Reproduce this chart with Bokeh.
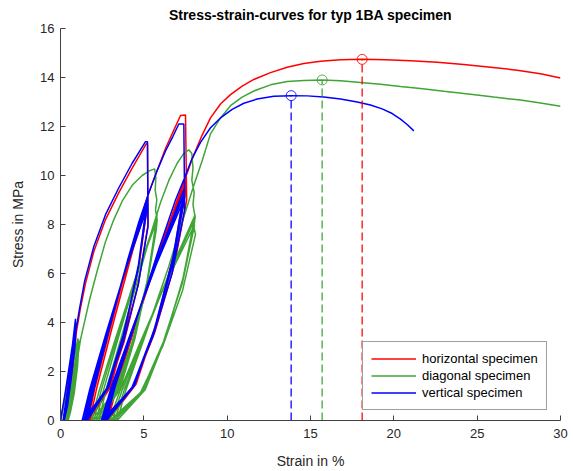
import numpy as np
from bokeh.plotting import figure
from bokeh.models import Range1d, FixedTicker, Legend, LegendItem
from bokeh.embed import file_html
from bokeh.resources import INLINE

# ---------------- data (strain in %, stress in MPa) ----------------
red_c1_strain = [0.00, 0.25, 0.50, 0.75, 0.97, 0.88, 0.68, 0.45, 0.22, 0.40, 0.62, 0.82, 0.95, 0.85, 0.65, 0.43, 0.25]
red_c1_stress = [0.00, 0.90, 1.90, 2.90, 3.95, 3.00, 1.70, 0.60, 0.00, 0.85, 2.00, 3.00, 3.75, 2.80, 1.60, 0.55, 0.00]
red_c2_strain = [0.45, 0.70, 0.95, 1.20, 1.50, 2.00, 2.70, 3.50, 4.30, 5.15, 5.22, 5.25,
                 4.68, 3.81, 2.82, 1.45, 1.90, 2.81, 3.94, 5.22,
                 4.67, 3.83, 2.87, 1.55, 1.99, 2.88, 3.99, 5.25,
                 4.71, 3.88, 2.95, 1.65, 2.08, 2.95, 4.03, 5.25,
                 4.73, 3.92, 3.01, 1.75]
red_c2_stress = [1.00, 2.40, 3.60, 4.60, 5.60, 6.90, 8.20, 9.30, 10.30, 11.30, 11.30, 8.00,
                 5.60, 3.20, 1.20, 0.00, 1.32, 3.52, 6.16, 8.80,
                 6.16, 3.52, 1.32, 0.00, 1.35, 3.60, 6.30, 9.00,
                 6.30, 3.60, 1.35, 0.00, 1.38, 3.68, 6.44, 9.20,
                 6.44, 3.68, 1.38, 0.00]
red_c3_strain = [2.20, 3.10, 4.20, 4.80, 5.30, 5.80, 6.30, 6.80, 7.20, 7.50, 7.57,
                 6.82, 5.66, 4.36, 2.55, 3.15, 4.35, 5.85, 7.55,
                 6.82, 5.69, 4.41, 2.65, 3.24, 4.41, 5.88, 7.55,
                 6.83, 5.73, 4.48, 2.75, 3.33, 4.48, 5.92, 7.55,
                 6.85, 5.76, 4.54, 2.85]
red_c3_stress = [1.40, 3.80, 6.60, 8.10, 9.30, 10.20, 11.10, 11.85, 12.45, 12.47, 9.00,
                 6.30, 3.60, 1.35, 0.00, 1.43, 3.80, 6.65, 9.50,
                 6.65, 3.80, 1.43, 0.00, 1.46, 3.90, 6.83, 9.75,
                 6.83, 3.90, 1.46, 0.00, 1.49, 3.98, 6.97, 9.95,
                 6.97, 3.98, 1.49, 0.00]
red_final_strain = [3.42, 4.55, 6.00, 7.00, 7.60, 8.00, 8.50, 9.00, 9.60, 10.20, 10.90, 11.60, 12.60, 13.60,
                    14.60, 15.60, 16.80, 18.10, 19.50, 21.00, 22.60, 24.20, 25.80, 27.40, 28.80, 30.00]
red_final_stress = [1.50, 4.00, 7.00, 9.00, 10.10, 10.85, 11.65, 12.35, 12.92, 13.30, 13.65, 13.92, 14.20, 14.42,
                    14.57, 14.66, 14.72, 14.74, 14.72, 14.68, 14.62, 14.53, 14.42, 14.30, 14.15, 13.98]

green_c1_strain = [0.00, 0.30, 0.60, 0.85, 1.05, 0.95, 0.75, 0.52, 0.30, 0.50, 0.72, 0.92, 1.08, 0.98, 0.78, 0.56, 0.38,
                   0.58, 0.80, 1.00, 1.12, 1.02, 0.82, 0.60, 0.45]
green_c1_stress = [0.00, 0.90, 1.90, 2.70, 3.35, 2.40, 1.30, 0.45, 0.00, 0.80, 1.70, 2.60, 3.30, 2.30, 1.20, 0.40, 0.00,
                   0.85, 1.80, 2.70, 3.25, 2.20, 1.10, 0.35, 0.00]
green_c2_strain = [0.65, 0.90, 1.20, 1.50, 1.75, 2.20, 2.70, 3.20, 3.70, 4.30, 4.90, 5.35, 5.65,
                   5.72, 5.68, 5.78, 5.70, 5.80, 5.75,
                   5.17, 4.27, 3.25, 1.85, 2.32, 3.25, 4.42, 5.75,
                   5.19, 4.33, 3.35, 2.00, 2.45, 3.36, 4.49, 5.78,
                   5.24, 4.40, 3.46, 2.15, 2.59, 3.46, 4.56, 5.80,
                   5.28, 4.47, 3.56, 2.30]
green_c2_stress = [0.90, 2.00, 3.30, 4.20, 4.95, 6.10, 7.30, 8.20, 8.95, 9.60, 10.00, 10.20, 10.27,
                   9.90, 9.40, 9.00, 8.60, 8.20, 7.80,
                   5.46, 3.12, 1.17, 0.00, 1.22, 3.24, 5.67, 8.10,
                   5.67, 3.24, 1.22, 0.00, 1.25, 3.32, 5.81, 8.30,
                   5.81, 3.32, 1.25, 0.00, 1.26, 3.36, 5.88, 8.40,
                   5.88, 3.36, 1.26, 0.00]
green_c3_strain = [2.75, 3.65, 4.70, 5.50, 6.00, 6.50, 7.00, 7.40, 7.70, 7.88,
                   7.95, 7.88, 8.02, 7.95, 8.08, 8.00, 8.10,
                   7.33, 6.14, 4.80, 2.95, 3.56, 4.79, 6.32, 8.05,
                   7.31, 6.17, 4.88, 3.10, 3.69, 4.88, 6.37, 8.05,
                   7.33, 6.23, 4.98, 3.25, 3.83, 4.99, 6.44, 8.08,
                   7.38, 6.30, 5.08, 3.40]
green_c3_stress = [1.30, 3.40, 5.90, 7.80, 8.90, 9.80, 10.50, 10.90, 11.05, 10.90,
                   10.30, 9.80, 9.30, 8.80, 8.30, 7.90, 7.60,
                   5.32, 3.04, 1.14, 0.00, 1.20, 3.20, 5.60, 8.00,
                   5.60, 3.20, 1.20, 0.00, 1.23, 3.28, 5.74, 8.20,
                   5.74, 3.28, 1.23, 0.00, 1.26, 3.36, 5.88, 8.40,
                   5.88, 3.36, 1.26, 0.00]
green_final_strain = [3.95, 5.10, 6.50, 7.40, 8.00, 8.50, 9.00, 9.60, 10.20, 10.90, 11.60, 12.60, 13.60, 14.60,
                      15.70, 16.80, 18.00, 19.20, 20.40, 21.60, 23.00, 24.60, 26.00, 27.60, 28.80, 30.00]
green_final_stress = [1.30, 3.50, 6.30, 8.30, 9.60, 10.60, 11.70, 12.35, 12.85, 13.20, 13.45, 13.70, 13.84, 13.88,
                      13.90, 13.87, 13.80, 13.72, 13.63, 13.55, 13.44, 13.32, 13.20, 13.08, 12.96, 12.83]

blue_c1_strain = [0.00, 0.25, 0.50, 0.72, 0.90, 0.82, 0.62, 0.40, 0.15, 0.35, 0.58, 0.78, 0.92, 0.83, 0.62, 0.40, 0.20,
                  0.38, 0.60, 0.80, 0.95, 0.85, 0.62, 0.42, 0.22]
blue_c1_stress = [0.00, 1.00, 2.10, 3.10, 4.15, 3.20, 1.90, 0.70, 0.00, 0.90, 2.10, 3.20, 4.00, 3.00, 1.70, 0.60, 0.00,
                  0.90, 2.00, 3.10, 3.90, 2.90, 1.60, 0.60, 0.00]
blue_c2_strain = [0.42, 0.65, 0.90, 1.15, 1.45, 2.00, 2.70, 3.50, 4.30, 5.10, 5.22, 5.25,
                  4.66, 3.75, 2.72, 1.30, 1.77, 2.70, 3.87, 5.20,
                  4.63, 3.76, 2.77, 1.40, 1.86, 2.78, 3.92, 5.22,
                  4.66, 3.81, 2.84, 1.50, 1.95, 2.84, 3.96, 5.22,
                  4.68, 3.84, 2.90, 1.60]
blue_c2_stress = [1.00, 2.30, 3.60, 4.60, 5.70, 7.10, 8.40, 9.50, 10.50, 11.38, 11.38, 7.90,
                  5.53, 3.16, 1.19, 0.00, 1.31, 3.48, 6.09, 8.70,
                  6.09, 3.48, 1.31, 0.00, 1.34, 3.56, 6.23, 8.90,
                  6.23, 3.56, 1.34, 0.00, 1.37, 3.64, 6.37, 9.10,
                  6.37, 3.64, 1.37, 0.00]
blue_c3_strain = [2.05, 2.95, 4.05, 4.70, 5.30, 5.80, 6.30, 6.75, 7.10, 7.40, 7.45,
                  6.70, 5.55, 4.25, 2.45, 3.05, 4.25, 5.75, 7.45,
                  6.72, 5.59, 4.31, 2.55, 3.14, 4.31, 5.78, 7.45,
                  6.73, 5.63, 4.38, 2.65, 3.23, 4.38, 5.82, 7.45,
                  6.75, 5.66, 4.44, 2.75]
blue_c3_stress = [1.40, 3.80, 6.60, 8.10, 9.30, 10.20, 11.00, 11.60, 12.10, 12.10, 8.60,
                  6.02, 3.44, 1.29, 0.00, 1.37, 3.64, 6.37, 9.10,
                  6.37, 3.64, 1.37, 0.00, 1.40, 3.72, 6.51, 9.30,
                  6.51, 3.72, 1.40, 0.00, 1.43, 3.80, 6.65, 9.50,
                  6.65, 3.80, 1.43, 0.00]
blue_final_strain = [3.30, 4.45, 5.90, 6.90, 7.50, 7.90, 8.40, 9.00, 9.60, 10.30, 11.00, 11.80, 12.80, 13.84,
                     14.80, 15.80, 16.80, 17.80, 18.60, 19.30, 19.90, 20.40, 20.80, 21.20]
blue_final_stress = [1.45, 3.90, 7.00, 9.00, 10.00, 10.70, 11.35, 11.95, 12.35, 12.70, 12.95, 13.12, 13.23, 13.26,
                     13.25, 13.20, 13.12, 13.00, 12.88, 12.72, 12.53, 12.30, 12.08, 11.82]

x_ticks = [0, 5, 10, 15, 20, 25, 30]
y_ticks = [0, 2, 4, 6, 8, 10, 12, 14, 16]
labels = ["horizontal specimen", "diagonal specimen", "vertical specimen"]
colors = ["#FF0000", "#3FA535", "#0000FF"]

specimens = [
    (red_c1_strain + red_c2_strain + red_c3_strain + red_final_strain,
     red_c1_stress + red_c2_stress + red_c3_stress + red_final_stress),
    (green_c1_strain + green_c2_strain + green_c3_strain + green_final_strain,
     green_c1_stress + green_c2_stress + green_c3_stress + green_final_stress),
    (blue_c1_strain + blue_c2_strain + blue_c3_strain + blue_final_strain,
     blue_c1_stress + blue_c2_stress + blue_c3_stress + blue_final_stress),
]

FONT = "Liberation Sans"
AX = "#404040"

p = figure(width=573, height=471, output_backend="svg", toolbar_location=None,
           x_range=Range1d(0, 30), y_range=Range1d(0, 16),
           min_border_left=60, min_border_right=13, min_border_top=28, min_border_bottom=49,
           title="Stress-strain-curves for typ 1BA specimen")
p.title.text_font = FONT
p.title.text_font_size = "14px"
p.title.text_font_style = "bold"
p.title.align = "center"
p.title.vertical_align = "top"
p.title.text_color = "#000000"
p.title.offset = 0
p.title.standoff = 8

p.outline_line_color = None
p.xgrid.visible = False
p.ygrid.visible = False

for ax, ticks in ((p.xaxis, x_ticks), (p.yaxis, y_ticks)):
    ax.ticker = FixedTicker(ticks=ticks)
    ax.major_tick_in = 5
    ax.major_tick_out = 0
    ax.minor_tick_in = 0
    ax.minor_tick_out = 0
    ax.axis_line_color = AX
    ax.major_tick_line_color = AX
    ax.major_label_text_font = FONT
    ax.major_label_text_font_size = "13px"
    ax.major_label_text_color = "#262626"
    ax.axis_label_text_font = FONT
    ax.axis_label_text_font_size = "14px"
    ax.axis_label_text_font_style = "normal"
    ax.axis_label_text_color = "#262626"
p.xaxis.axis_label = "Strain in %"
p.yaxis.axis_label = "Stress in MPa"
p.xaxis.major_label_standoff = 8
p.yaxis.major_label_standoff = 6
p.xaxis.axis_label_standoff = 12
p.yaxis.axis_label_standoff = 11

items = []
for (sx, sy), c, lab in zip(specimens, colors, labels):
    r = p.line(sx, sy, line_color=c, line_width=1.5)
    items.append(LegendItem(label=lab, renderers=[r]))

for (sx, sy), c in zip(specimens, colors):
    i = int(np.argmax(sy))
    p.segment(x0=[sx[i]], y0=[0], x1=[sx[i]], y1=[sy[i]], line_color=c, line_width=1.5,
              line_dash="8 4", line_alpha=0.85)
    p.scatter([sx[i]], [sy[i]], marker="circle", size=10, fill_color=None, line_color=c,
              line_width=1, line_alpha=0.85)

legend = Legend(items=items, location=(302, 10))
legend.label_text_font = FONT
legend.label_text_font_size = "13px"
legend.label_text_color = "#000000"
legend.glyph_width = 45
legend.glyph_height = 17
legend.label_height = 17
legend.label_standoff = 6
legend.spacing = 0
legend.padding = 8
legend.margin = 0
legend.border_line_color = AX
legend.border_line_width = 1
legend.background_fill_color = "white"
legend.background_fill_alpha = 1
p.add_layout(legend, "center")

open("out.html", "w").write(file_html(p, INLINE))
